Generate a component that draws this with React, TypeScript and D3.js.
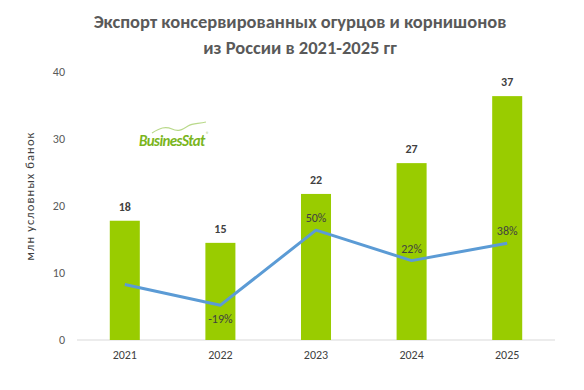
import React from 'react';
import * as d3 from 'd3';

const years = ['2021', '2022', '2023', '2024', '2025'];
const exportVolume = [17.8, 14.5, 21.8, 26.4, 36.4];
const volumeLabels = ['18', '15', '22', '27', '37'];
const growth = [0, -19, 50, 22, 38];
const growthLabels = [null, '-19%', '50%', '22%', '38%'];
const yTicks = [0, 10, 20, 30, 40];

const W = 584;
const H = 390;
const margin = { top: 72, right: 29, bottom: 50, left: 77 };

export default function App() {
  const x = d3.scaleBand()
    .domain(years)
    .range([margin.left, W - margin.right])
    .paddingInner(0.686)
    .paddingOuter(0.343);

  const y = d3.scaleLinear()
    .domain([0, 40])
    .range([H - margin.bottom, margin.top]);

  // hidden secondary axis for growth line
  const y2 = d3.scaleLinear()
    .domain([-51, 195.4])
    .range([H - margin.bottom, margin.top]);

  const line = d3.line<number>()
    .x((d, i) => (x(years[i]) as number) + x.bandwidth() / 2)
    .y(d => y2(d));

  const font = 'Calibri, Carlito, Lato, sans-serif';

  return (
    <svg width={W} height={H} style={{ position: 'absolute', left: 0, top: 0 }} fontFamily={font}>
      <rect width={W} height={H} fill="#fff" />
      <text x={300} y={28} textAnchor="middle" fontSize={18.5} fontWeight="bold" fill="#595959">
        Экспорт консервированных огурцов и корнишонов
      </text>
      <text x={300} y={54} textAnchor="middle" fontSize={18.5} fontWeight="bold" fill="#595959">
        из России в 2021-2025 гг
      </text>

      {/* logo */}
      <g>
        <path d="M152,133 C160,128 165,126 172,129 C178,132 182,130 188,126 C193,123 198,124 206,122"
          fill="none" stroke="#b9d98a" strokeWidth={1.2} />
        <text x={139} y={146} fontSize={15} fontWeight="bold" fontStyle="italic" fill="#7ab51d"
          letterSpacing={-0.6}>BusinesStat</text>
        <text x={206} y={136} fontSize={6} fill="#7ab51d">®</text>
      </g>

      {yTicks.map(t => (
        <text key={t} x={65} y={y(t)} dy="0.35em" textAnchor="end" fontSize={12} fill="#595959">{t}</text>
      ))}
      <text transform={`translate(34,196) rotate(-90)`} textAnchor="middle"
        fontSize={12.5} fill="#404040" letterSpacing={1.1}>млн условных банок</text>

      <line x1={margin.left} x2={W - margin.right} y1={y(0)} y2={y(0)} stroke="#d9d9d9" strokeWidth={1} />

      {years.map((yr, i) => (
        <g key={yr}>
          <rect x={x(yr)} y={y(exportVolume[i])} width={x.bandwidth()} height={y(0) - y(exportVolume[i])} fill="#99cc00" />
          <text x={(x(yr) as number) + x.bandwidth() / 2} y={y(exportVolume[i]) - 10} textAnchor="middle"
            fontSize={12} fontWeight="bold" fill="#404040">{volumeLabels[i]}</text>
          <text x={(x(yr) as number) + x.bandwidth() / 2} y={y(0) + 19} textAnchor="middle"
            fontSize={12} fill="#404040">{yr}</text>
        </g>
      ))}

      <path d={line(growth) || ''} fill="none" stroke="#5b9bd5" strokeWidth={3} strokeLinejoin="round" />

      {growth.map((g, i) => growthLabels[i] && (
        <text key={i} x={(x(years[i]) as number) + x.bandwidth() / 2}
          y={g < 0 ? y2(g) + 18 : y2(g) - 8} textAnchor="middle" fontSize={12} fill="#404040">
          {growthLabels[i]}
        </text>
      ))}
    </svg>
  );
}
